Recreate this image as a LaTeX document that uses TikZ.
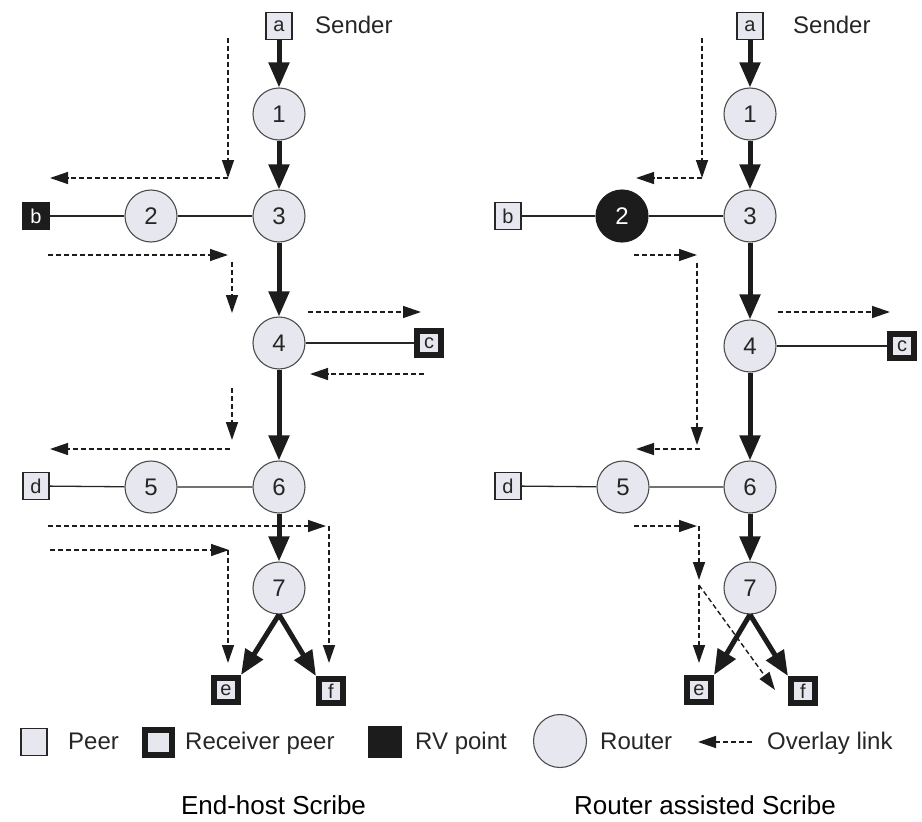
\documentclass[tikz,border=0pt]{standalone}
\usepackage{fontspec}
\setmainfont{Liberation Sans}
\usetikzlibrary{arrows.meta}
\definecolor{nodefill}{RGB}{231,232,239}
\definecolor{ink}{RGB}{28,28,28}

\tikzset{
  router/.style={circle, draw=black!70, line width=1.1pt, fill=nodefill,
    minimum size=52pt, inner sep=0pt, text=black!85, font=\fontsize{24}{24}\selectfont},
  rvrouter/.style={router, fill=ink, draw=ink, text=white},
  peer/.style={rectangle, draw=black!85, line width=1.3pt, fill=nodefill,
    minimum width=26pt, minimum height=27pt, inner sep=0pt, text=black!85,
    font=\fontsize{20}{20}\selectfont},
  rvpeer/.style={peer, fill=ink, draw=ink, text=white},
  recv/.style={peer, draw=ink, line width=6pt, minimum width=24pt, minimum height=24pt},
  flow/.style={line width=5pt, draw=ink, -{Triangle[length=25pt,width=20pt]}},
  link/.style={line width=1.3pt, draw=black!85},
  overlay/.style={line width=1.4pt, draw=ink, dash pattern=on 5pt off 3pt,
    -{Triangle[length=18pt,width=12pt]}},
  label/.style={anchor=base west, inner sep=0pt, text=black!85, font=\fontsize{24}{24}\selectfont},
  caption/.style={anchor=base, inner sep=0pt, text=black, font=\fontsize{26}{26}\selectfont},
}

\begin{document}
\begin{tikzpicture}[x=1pt, y=-1pt]
\useasboundingbox (0,0) rectangle (922,822);

% ---------------- End-host Scribe ----------------
\node[peer]   (La) at (279,26)  {a};
\node[label]  (Ls) at (315,33)  {Sender};
\node[router] (L1) at (279,114) {1};
\node[router] (L3) at (279,216) {3};
\node[router] (L2) at (151,216) {2};
\node[rvpeer] (Lb) at (36,216)  {b};
\node[router] (L4) at (279,343) {4};
\node[recv]   (Lc) at (429,343) {c};
\node[router] (L6) at (279,487) {6};
\node[router] (L5) at (151,487) {5};
\node[peer]   (Ld) at (36,486)  {d};
\node[router] (L7) at (279,588) {7};
\node[recv]   (Le) at (226,690) {e};
\node[recv]   (Lf) at (331,691) {f};

\draw[link] (Lb) -- (L2) -- (L3);
\draw[link] (L4) -- (Lc);
\draw[link] (Ld) -- (L5) -- (L6);

\draw[flow] (La) -- (L1);
\draw[flow] (L1) -- (L3);
\draw[flow] (L3) -- (L4);
\draw[flow] (L4) -- (L6);
\draw[flow] (L6) -- (L7);
\draw[flow] (L7.south) -- (Le.north east);
\draw[flow] (L7.south) -- (Lf.north west);

% overlay links
\coordinate (p1) at (228,38);  \coordinate (p2) at (228,178); \coordinate (p3) at (50,178);
\coordinate (p4) at (48,255);  \coordinate (p5) at (228,255);
\coordinate (p6) at (232,262); \coordinate (p7) at (232,313);
\coordinate (p8) at (308,312); \coordinate (p9) at (421,312);
\coordinate (p10) at (424,374); \coordinate (p11) at (310,374);
\coordinate (p12) at (232,388); \coordinate (p13) at (232,440);
\coordinate (p14) at (230,449); \coordinate (p15) at (50,449);
\coordinate (p16) at (48,526);  \coordinate (p17) at (326,526);
\coordinate (p18) at (329,526); \coordinate (p19) at (329,663);
\coordinate (p20) at (50,550);  \coordinate (p21) at (229,550);
\coordinate (p22) at (228,550); \coordinate (p23) at (228,663);

\draw[overlay] (p1) -- (p2);
\draw[overlay] (p2) -- (p3);
\draw[overlay] (p4) -- (p5);
\draw[overlay] (p6) -- (p7);
\draw[overlay] (p8) -- (p9);
\draw[overlay] (p10) -- (p11);
\draw[overlay] (p12) -- (p13);
\draw[overlay] (p14) -- (p15);
\draw[overlay] (p16) -- (p17);
\draw[overlay] (p18) -- (p19);
\draw[overlay] (p20) -- (p21);
\draw[overlay] (p22) -- (p23);

% ---------------- Router assisted Scribe ----------------
\node[peer]     (Ra) at (750,26)  {a};
\node[label]    (Rs) at (793,33)  {Sender};
\node[router]   (R1) at (750,114) {1};
\node[router]   (R3) at (750,216) {3};
\node[rvrouter] (R2) at (622,216) {2};
\node[peer]     (Rb) at (508,216) {b};
\node[router]   (R4) at (750,346) {4};
\node[recv]     (Rc) at (902,346) {c};
\node[router]   (R6) at (750,487) {6};
\node[router]   (R5) at (623,487) {5};
\node[peer]     (Rd) at (508,486) {d};
\node[router]   (R7) at (750,588) {7};
\node[recv]     (Re) at (699,690) {e};
\node[recv]     (Rf) at (803,691) {f};

\draw[link] (Rb) -- (R2) -- (R3);
\draw[link] (R4) -- (Rc);
\draw[link] (Rd) -- (R5) -- (R6);

\draw[flow] (Ra) -- (R1);
\draw[flow] (R1) -- (R3);
\draw[flow] (R3) -- (R4);
\draw[flow] (R4) -- (R6);
\draw[flow] (R6) -- (R7);
\draw[flow] (R7.south) -- (Re.north east);
\draw[flow] (R7.south) -- (Rf.north west);

\coordinate (q1) at (702,38);  \coordinate (q2) at (702,178); \coordinate (q3) at (636,178);
\coordinate (q4) at (634,255); \coordinate (q5) at (697,255);
\coordinate (q6) at (697,263); \coordinate (q7) at (697,445);
\coordinate (q8) at (700,449); \coordinate (q9) at (636,449);
\coordinate (q10) at (778,312); \coordinate (q11) at (890,312);
\coordinate (q12) at (634,526); \coordinate (q13) at (697,526);
\coordinate (q14) at (699,526); \coordinate (q15) at (699,580);
\coordinate (q16) at (699,585); \coordinate (q17) at (699,663);
\coordinate (q18) at (775,690);

\draw[overlay] (q1) -- (q2);
\draw[overlay] (q2) -- (q3);
\draw[overlay] (q4) -- (q5);
\draw[overlay] (q6) -- (q7);
\draw[overlay] (q8) -- (q9);
\draw[overlay] (q10) -- (q11);
\draw[overlay] (q12) -- (q13);
\draw[overlay] (q14) -- (q15);
\draw[overlay] (q16) -- (q17);
\draw[overlay] (q16) -- (q18);

% ---------------- Legend ----------------
\node[peer] (kpeer) at (34,742) {};
\node[label] (kpeert) at (68,749) {Peer};
\node[recv, minimum width=27pt, minimum height=25pt] (krecv) at (158,742) {};
\node[label] (krecvt) at (185,749) {Receiver peer};
\node[rvpeer, minimum width=33pt, minimum height=31pt] (krv) at (385,742) {};
\node[label] (krvt) at (415,749) {RV point};
\node[router, minimum size=53pt] (krouter) at (560,741) {};
\node[label] (kroutert) at (600,749) {Router};
\coordinate (kl1) at (752,742); \coordinate (kl2) at (698,742);
\draw[overlay] (kl1) -- (kl2);
\node[label] (klinkt) at (767,749) {Overlay link};

% ---------------- Captions ----------------
\node[caption] (capL) at (273.5,814) {End-host Scribe};
\node[caption] (capR) at (705,814) {Router assisted Scribe};
\end{tikzpicture}
\end{document}
